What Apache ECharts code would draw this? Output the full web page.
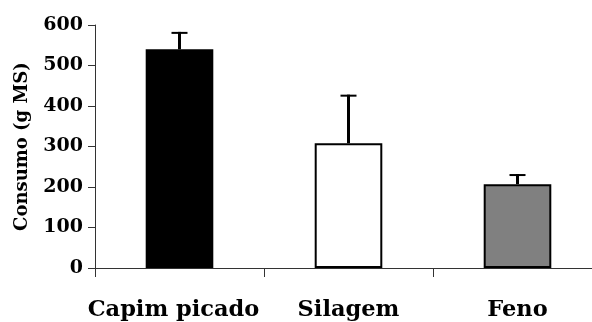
<!DOCTYPE html>
<html><head><meta charset="utf-8">
<script src="https://cdn.jsdelivr.net/npm/echarts@6/dist/echarts.min.js"></script>
<style>html,body{margin:0;padding:0;background:#fff;overflow:hidden;width:592px;height:322px}#c{width:602px;height:322px}</style>
</head><body><div id="c"></div>
<script>
var categories = ['Capim picado', 'Silagem', 'Feno'];
var values = [540, 308, 207];
var errors = [43, 120, 25];
var barColors = ['#000000', '#ffffff', '#808080'];
var yTicks = [0, 100, 200, 300, 400, 500, 600];
var yTitle = 'Consumo (g MS)';

var FONT = 'DejaVu Serif';
var chart = echarts.init(document.getElementById('c'), null, {renderer: 'canvas'});
chart.setOption({
  animation: false,
  backgroundColor: '#fff',
  grid: {left: 95, top: 25, right: 0, bottom: 54, containLabel: false},
  xAxis: {
    type: 'category',
    data: categories.map(function (c, i) {
      return i === 0 ? {value: c, textStyle: {padding: [0, 12, 0, 0]}} : c;
    }),
    axisLine: {lineStyle: {color: '#333', width: 1}},
    axisTick: {show: true, length: 9, alignWithLabel: false, interval: 0, lineStyle: {color: '#333'}},
    axisLabel: {margin: 31, fontFamily: FONT, fontWeight: 'bold', fontSize: 22.5, color: '#000', interval: 0}
  },
  yAxis: {
    type: 'value', min: yTicks[0], max: yTicks[yTicks.length - 1], interval: 100,
    name: yTitle, nameLocation: 'middle', nameGap: 64, nameRotate: 90,
    nameTextStyle: {fontFamily: FONT, fontWeight: 'bold', fontSize: 18, color: '#000'},
    axisLine: {show: true, lineStyle: {color: '#333', width: 1}},
    axisTick: {show: true, length: 7, lineStyle: {color: '#333'}},
    splitLine: {show: false},
    axisLabel: {margin: 12, fontFamily: FONT, fontWeight: 'bold', fontSize: 19, color: '#000'}
  },
  series: [
    {
      type: 'bar', barWidth: '40%',
      data: values.map(function (v, i) {
        return {value: v, itemStyle: {color: barColors[i], borderColor: '#000', borderWidth: i === 0 ? 0 : 2}};
      }),
      z: 2
    },
    {
      type: 'custom', z: 3,
      data: values.map(function (v, i) { return [i, v, v + errors[i]]; }),
      renderItem: function (params, api) {
        var base = api.coord([api.value(0), api.value(1)]);
        var top = api.coord([api.value(0), api.value(2)]);
        var x = base[0];
        return {
          type: 'group',
          children: [
            {type: 'line', shape: {x1: x, y1: base[1], x2: x, y2: top[1]}, style: {stroke: '#000', lineWidth: 3}},
            {type: 'line', shape: {x1: x - 8, y1: top[1] + 1, x2: x + 8, y2: top[1] + 1}, style: {stroke: '#000', lineWidth: 2}}
          ]
        };
      }
    }
  ]
});
</script></body></html>
